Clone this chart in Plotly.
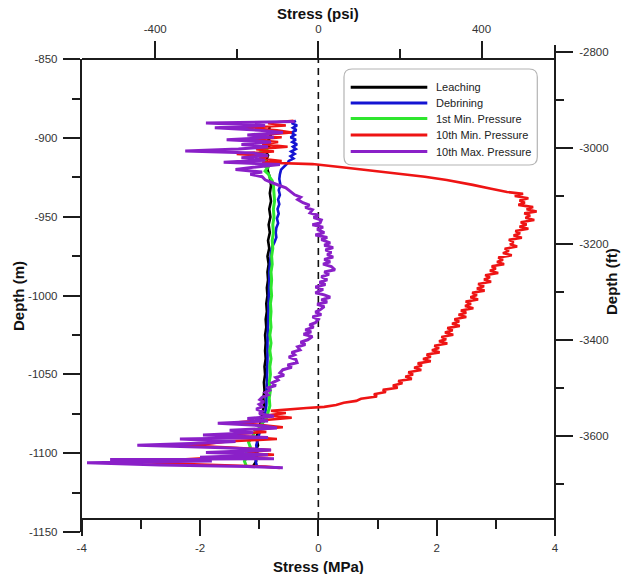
import plotly.graph_objects as go

# ---------------------------------------------------------------------------
# Stress profiles (MPa) against depth (m)
# ---------------------------------------------------------------------------
leach_depth = [-893, -896, -899, -902, -905, -908, -911, -914, -917, -920, -925, -930,
               -935, -940, -945, -950, -955, -960, -965, -970, -975, -980, -985, -990,
               -995, -1000, -1005, -1010, -1015, -1020, -1025, -1030, -1035, -1040,
               -1045, -1050, -1055, -1060, -1065, -1070, -1075, -1080, -1085, -1090,
               -1095, -1100, -1105, -1108]
leach_stress = [-0.82, -0.85, -0.80, -0.86, -0.83, -0.90, -0.85, -0.88, -0.84, -0.86, -0.82,
                -0.80, -0.82, -0.80, -0.83, -0.81, -0.84, -0.82, -0.85, -0.83, -0.86, -0.84,
                -0.86, -0.85, -0.87, -0.86, -0.88, -0.87, -0.89, -0.88, -0.90, -0.89, -0.90,
                -0.89, -0.91, -0.90, -0.92, -0.91, -0.93, -0.92, -0.95, -0.98, -1.00, -1.05,
                -1.02, -1.08, -1.05, -1.10]

debrine_depth = [-889, -890.5, -892, -893.5, -895, -896.5, -898, -899.5, -901, -902.5, -904,
                 -905.5, -907, -908.5, -910, -911.5, -913, -914.5, -916, -918, -920, -923,
                 -926, -930, -933, -936, -939, -942, -945, -948, -951, -954, -957, -960, -963,
                 -966, -969, -972, -976, -980, -985, -990, -1000, -1010, -1020, -1030, -1040,
                 -1050, -1060, -1070, -1075, -1080, -1085, -1090, -1095, -1100, -1105, -1108]
debrine_stress = [-0.38, -0.45, -0.36, -0.43, -0.37, -0.46, -0.40, -0.47, -0.38, -0.44, -0.36,
                  -0.43, -0.38, -0.46, -0.40, -0.47, -0.42, -0.50, -0.52, -0.58, -0.63, -0.65,
                  -0.66, -0.64, -0.67, -0.65, -0.68, -0.66, -0.69, -0.67, -0.70, -0.68, -0.71,
                  -0.72, -0.71, -0.74, -0.78, -0.80, -0.81, -0.82, -0.83, -0.83, -0.84, -0.85,
                  -0.85, -0.86, -0.86, -0.87, -0.87, -0.88, -0.90, -0.93, -0.98, -1.02, -1.05,
                  -1.03, -1.06, -1.04]

min1_depth = [-905, -907, -909, -911, -913, -915, -917, -919, -921, -923, -925, -927, -930,
              -935, -940, -945, -950, -955, -960, -965, -970, -975, -980, -985, -990, -995,
              -1000, -1005, -1010, -1015, -1020, -1025, -1030, -1035, -1040, -1045, -1050,
              -1055, -1060, -1065, -1070, -1074, -1078, -1081, -1084, -1087, -1090, -1093,
              -1096, -1099, -1102, -1105, -1108]
min1_stress = [-0.95, -0.88, -0.97, -0.90, -0.95, -0.88, -0.93, -0.86, -0.90, -0.84, -0.82,
               -0.78, -0.76, -0.75, -0.74, -0.76, -0.75, -0.77, -0.76, -0.78, -0.77, -0.79,
               -0.78, -0.80, -0.79, -0.80, -0.79, -0.81, -0.80, -0.81, -0.80, -0.82, -0.80,
               -0.82, -0.80, -0.82, -0.81, -0.83, -0.81, -0.83, -0.82, -0.85, -0.88, -0.95,
               -1.00, -1.08, -1.12, -1.18, -1.15, -1.22, -1.20, -1.25, -1.22]

min10_depth = [-889.0, -890.5, -892.0, -893.5, -895.0, -896.5, -898.0, -899.5, -901.0, -902.5,
               -904.0, -905.5, -907.0, -908.5, -910.0, -911.5, -913.0, -914.5, -915.5, -916.5,
               -918.5, -920.5, -922.8, -924.5, -926.6, -928.0, -929.7, -932.0, -934.2, -935.4,
               -936.8, -938.2, -939.6, -941.0, -942.4, -943.8, -945.2, -946.6, -947.8, -949.2,
               -950.6, -952.0, -953.4, -954.8, -956.2, -957.6, -959.0, -960.4, -961.8, -963.2,
               -964.6, -966.0, -967.4, -968.8, -970.2, -971.6, -973.0, -974.4, -975.8, -977.2,
               -978.6, -980.0, -981.4, -982.8, -984.2, -985.6, -987.0, -988.4, -989.8, -991.2,
               -992.6, -994.0, -995.4, -996.8, -998.2, -999.6, -1001.0, -1002.4, -1003.8,
               -1005.2, -1006.6, -1008.0, -1009.4, -1010.8, -1012.2, -1013.6, -1015.0, -1016.4,
               -1017.8, -1019.2, -1020.6, -1022.0, -1023.4, -1024.8, -1026.2, -1027.6, -1029.0,
               -1030.4, -1031.8, -1033.2, -1034.6, -1036.0, -1037.4, -1038.8, -1040.2, -1041.6,
               -1043.0, -1044.4, -1045.8, -1047.2, -1048.6, -1050.0, -1051.4, -1052.8, -1054.2,
               -1055.6, -1057.0, -1058.4, -1059.8, -1061.2, -1062.6, -1064.0, -1065.4, -1066.8,
               -1068.0, -1069.4, -1070.6, -1071.3, -1072.2, -1073.1, -1074.5, -1076.0, -1077.5,
               -1079.0, -1080.5, -1082.0, -1083.5, -1085.0, -1086.5, -1088.0, -1089.5, -1091.0,
               -1092.5, -1094.0, -1095.0, -1096.5, -1098.0, -1099.5, -1101.0, -1102.5, -1104.0,
               -1105.5, -1106.5, -1107.5, -1108.5, -1109.3]
min10_stress = [-0.42, -0.85, -0.55, -1.25, -0.70, -0.45, -0.95, -0.62, -1.10, -0.68,
                -0.95, -0.52, -1.05, -0.75, -1.38, -0.85, -1.00, -0.62, -0.95, -0.10,
                0.40, 0.85, 1.43, 1.80, 2.17, 2.40, 2.61, 2.90, 3.19, 3.46,
                3.32, 3.55, 3.40, 3.49, 3.38, 3.63, 3.52, 3.69, 3.48, 3.58,
                3.50, 3.65, 3.42, 3.52, 3.40, 3.55, 3.33, 3.41, 3.30, 3.44,
                3.22, 3.30, 3.24, 3.36, 3.15, 3.22, 3.12, 3.27, 3.04, 3.12,
                3.02, 3.14, 2.93, 3.00, 2.90, 3.04, 2.82, 2.90, 2.80, 2.92,
                2.70, 2.80, 2.68, 2.81, 2.60, 2.68, 2.57, 2.70, 2.49,
                2.58, 2.48, 2.62, 2.41, 2.50, 2.37, 2.50, 2.30, 2.38,
                2.26, 2.39, 2.18, 2.27, 2.14, 2.28, 2.08, 2.16, 2.04,
                2.18, 1.96, 2.04, 1.92, 2.05, 1.83, 1.90, 1.77, 1.90,
                1.68, 1.75, 1.62, 1.74, 1.52, 1.60, 1.47, 1.58, 1.35,
                1.42, 1.26, 1.34, 1.09, 1.14, 0.94, 0.99, 0.72, 0.64,
                0.43, 0.30, 0.10, -0.20, -0.55, -0.80, -0.55, -0.85, -0.45,
                -0.95, -1.40, -1.00, -0.60, -1.10, -0.88, -1.45, -1.20, -0.70,
                -1.55, -1.85, -2.28, -1.40, -0.80, -1.20, -0.75, -1.60, -2.40,
                -2.96, -2.50, -1.50, -0.90, -0.65]

max10_depth = [-889.5, -890.5, -892.0, -893.5, -895.0, -896.5, -898.0, -899.5, -901.0, -902.5,
               -904.0, -905.5, -907.0, -908.2, -909.5, -911.0, -912.5, -914.0, -915.3, -916.8,
               -918.5, -920.0, -921.5, -923.0, -924.5, -926.5, -928.5, -930.0, -931.5, -933.0,
               -934.8, -936.0, -937.5, -939.0, -941.0, -942.5, -944.0, -945.5, -947.5, -949.0,
               -950.5, -952.0, -953.8, -955.0, -956.5, -958.0, -960.0, -961.5, -963.0, -964.5,
               -966.5, -968.0, -969.5, -971.0, -972.5, -974.0, -975.5, -977.0, -978.5, -980.0,
               -981.5, -983.6, -985.0, -986.5, -988.0, -990.0, -991.5, -993.0, -994.5, -996.0,
               -998.2, -999.5, -1001.0, -1002.7, -1004.0, -1005.5, -1007.0, -1009.0, -1010.5,
               -1012.0, -1013.5, -1015.0, -1017.2, -1018.5, -1020.0, -1021.7, -1023.0, -1024.5,
               -1026.0, -1028.0, -1029.5, -1031.0, -1032.5, -1034.4, -1036.0, -1037.5, -1039.0,
               -1040.5, -1042.6, -1044.0, -1045.5, -1047.0, -1049.0, -1050.5, -1052.0, -1053.5,
               -1055.3, -1057.0, -1058.5, -1060.0, -1061.5, -1063.0, -1064.5, -1066.0, -1067.5,
               -1069.0, -1070.5, -1072.0, -1073.5, -1075.0, -1076.5, -1078.0, -1079.5, -1081.0,
               -1082.5, -1084.0, -1085.5, -1087.0, -1088.5, -1090.0, -1091.0, -1092.5, -1093.5,
               -1095.0, -1096.5, -1098.0, -1099.5, -1101.0, -1102.5, -1103.5, -1104.0, -1105.0,
               -1106.0, -1107.5, -1108.5, -1109.3]
max10_stress = [-0.40, -1.90, -0.90, -1.75, -1.00, -0.60, -1.20, -0.75, -1.55, -0.80,
                -1.30, -0.85, -1.35, -2.25, -1.10, -0.85, -1.30, -0.90, -1.60, -0.65,
                -1.10, -1.40, -0.95, -1.15, -0.95, -0.90, -0.77, -0.65, -0.55, -0.50,
                -0.43, -0.40, -0.30, -0.35, -0.26, -0.15, -0.22, -0.10, -0.14, 0.00,
                -0.08, 0.05, 0.03, -0.10, 0.08, -0.02, 0.10, -0.05, 0.15, 0.05,
                0.20, 0.10, 0.25, 0.12, 0.22, 0.15, 0.25, 0.10, 0.20, 0.08,
                0.22, 0.28, 0.10, 0.18, 0.05, 0.15, 0.02, 0.12, -0.05, 0.08,
                -0.05, 0.10, 0.20, 0.05, 0.15, -0.02, 0.10, 0.03, -0.05,
                0.05, -0.10, 0.00, -0.05, -0.15, -0.08, -0.22, -0.12, -0.25,
                -0.10, -0.18, -0.30, -0.22, -0.35, -0.31, -0.45, -0.40, -0.50,
                -0.38, -0.36, -0.52, -0.45, -0.60, -0.65, -0.58, -0.72, -0.68,
                -0.78, -0.72, -0.85, -0.82, -0.90, -0.85, -0.95, -0.99, -0.92,
                -1.00, -0.95, -1.05, -0.95, -1.00, -0.75, -1.20, -0.85, -1.70,
                -0.95, -0.70, -1.50, -1.10, -1.95, -0.85, -2.34, -1.40, -1.90,
                -3.06, -1.60, -0.80, -1.90, -0.85, -2.00, -0.75, -3.52, -1.80,
                -3.91, -2.68, -1.20, -0.60]

series_names = ["Leaching", "Debrining", "1st Min. Pressure", "10th Min. Pressure",
                "10th Max. Pressure"]
series_colors = ["#000000", "#1414d2", "#2ee62e", "#ee1414", "#8a20c8"]

# Axis ticks
mpa_ticks = [-4, -2, 0, 2, 4]
mpa_labels = ["-4", "-2", "0", "2", "4"]
mpa_minor = [-3, -1, 1, 3]
psi_ticks = [-400, 0, 400]
psi_labels = ["-400", "0", "400"]
psi_minor = [-200, 200]
m_ticks = [-850, -900, -950, -1000, -1050, -1100, -1150]
m_labels = ["-850", "-900", "-950", "-1000", "-1050", "-1100", "-1150"]
m_minor = [-875, -925, -975, -1025, -1075, -1125]
ft_ticks = [-2800, -3000, -3200, -3400, -3600]
ft_labels = ["-2800", "-3000", "-3200", "-3400", "-3600"]
ft_minor = [-2900, -3100, -3300, -3500, -3700]

# ---------------------------------------------------------------------------
# Layout geometry (pixels in a 626 x 574 page)
# ---------------------------------------------------------------------------
W, H = 626, 574
MPA_TO_PSI = 145.0377
M_TO_FT = 3.28084


def fx(p):
    return p / W


def fy(p):
    return 1 - p / H


LEFT_PX, RIGHT_PX = 81.7, 555.0          # -4 MPa / +4 MPa
TOP_PX, BOT_PX = 59.3, 532.0             # -850 m / -1150 m
XAXIS_PX = 519.0                         # bottom stress axis line
RAX_TOP_PX, RAX_BOT_PX = 45.0, 527.0     # extent of the feet axis
FT_REF, FT_REF_PX = -2800, 51.7

px_per_ft = (BOT_PX - TOP_PX) / (300 * M_TO_FT)
ft_top = FT_REF + (FT_REF_PX - RAX_TOP_PX) / px_per_ft
ft_bot = FT_REF - (RAX_BOT_PX - FT_REF_PX) / px_per_ft

FONT = "Liberation Sans, Arial, Helvetica, sans-serif"
AX = "#1c1c1c"
tick_font = dict(family=FONT, size=11.5, color="#333333")

fig = go.Figure()

depths = [leach_depth, debrine_depth, min1_depth, min10_depth, max10_depth]
stresses = [leach_stress, debrine_stress, min1_stress, min10_stress, max10_stress]
widths = [2.6, 2.6, 3.0, 2.6, 3.0]
for name, d, s, c, w in zip(series_names, depths, stresses, series_colors, widths):
    fig.add_trace(go.Scatter(x=s, y=d, mode="lines", name=name,
                             line=dict(color=c, width=w), showlegend=False))

# carriers for the secondary axes
fig.add_trace(go.Scatter(x=[None], y=[None], xaxis="x2", yaxis="y",
                         showlegend=False, hoverinfo="skip"))
fig.add_trace(go.Scatter(x=[None], y=[None], xaxis="x", yaxis="y2",
                         showlegend=False, hoverinfo="skip"))

common = dict(showline=True, linecolor=AX, linewidth=1.8, ticks="outside",
              tickwidth=1.8, tickcolor=AX, showgrid=False, zeroline=False,
              tickfont=tick_font, automargin=False, fixedrange=True, tickmode="array")

fig.update_layout(
    width=W, height=H,
    margin=dict(l=0, r=0, t=0, b=0),
    paper_bgcolor="white", plot_bgcolor="rgba(0,0,0,0)",
    showlegend=False,
    xaxis=dict(domain=[fx(LEFT_PX), fx(RIGHT_PX)], range=[-4, 4], anchor="free",
               position=fy(XAXIS_PX), side="bottom", tickvals=mpa_ticks,
               ticktext=mpa_labels, ticklen=16, ticklabelstandoff=2,
               minor=dict(tickmode="array", tickvals=mpa_minor, ticks="outside",
                          ticklen=9, tickwidth=1.8, tickcolor=AX),
               **common),
    xaxis2=dict(overlaying="x", range=[-4 * MPA_TO_PSI, 4 * MPA_TO_PSI], anchor="free",
                position=fy(TOP_PX), side="top", tickvals=psi_ticks, ticktext=psi_labels,
                ticklen=17, ticklabelstandoff=4,
                minor=dict(tickmode="array", tickvals=psi_minor, ticks="outside",
                           ticklen=9, tickwidth=1.8, tickcolor=AX),
                **common),
    yaxis=dict(domain=[fy(BOT_PX), fy(TOP_PX)], range=[-1150, -850], anchor="x",
               side="left", tickvals=m_ticks, ticktext=m_labels, ticklen=17,
               ticklabelstandoff=3,
               minor=dict(tickmode="array", tickvals=m_minor, ticks="outside",
                          ticklen=8, tickwidth=1.8, tickcolor=AX),
               **common),
    yaxis2=dict(domain=[fy(RAX_BOT_PX), fy(RAX_TOP_PX)], range=[ft_bot, ft_top],
                anchor="free", position=fx(RIGHT_PX), side="right", tickvals=ft_ticks,
                ticktext=ft_labels, ticklen=17, ticklabelstandoff=4,
                minor=dict(tickmode="array", tickvals=ft_minor, ticks="outside",
                           ticklen=8, tickwidth=1.8, tickcolor=AX),
                **common),
)

# dashed zero-stress reference line
fig.add_shape(type="line", xref="x", yref="paper", x0=0, x1=0,
              y0=fy(XAXIS_PX), y1=fy(TOP_PX), layer="below",
              line=dict(color="#111111", width=1.6, dash="7px,5px"))

# axis titles
title_font = dict(family=FONT, size=15, color="#111111")
fig.add_annotation(text="<b>Stress (psi)</b>", xref="paper", yref="paper",
                   x=fx(318.4), y=fy(13), showarrow=False, font=title_font,
                   xanchor="center", yanchor="middle")
fig.add_annotation(text="<b>Stress (MPa)</b>", xref="paper", yref="paper",
                   x=fx(318.4), y=fy(566), showarrow=False, font=title_font,
                   xanchor="center", yanchor="middle")
fig.add_annotation(text="<b>Depth (m)</b>", xref="paper", yref="paper",
                   x=fx(18), y=fy(296), showarrow=False, font=title_font,
                   textangle=-90, xanchor="center", yanchor="middle")
fig.add_annotation(text="<b>Depth (ft)</b>", xref="paper", yref="paper",
                   x=fx(611), y=fy(282), showarrow=False, font=title_font,
                   textangle=-90, xanchor="center", yanchor="middle")

# legend box with rounded corners
LX0, LX1, LY0, LY1, R = 344.0, 537.3, 69.0, 165.0, 8.0
path = (f"M {fx(LX0 + R)},{fy(LY0)} L {fx(LX1 - R)},{fy(LY0)} "
        f"Q {fx(LX1)},{fy(LY0)} {fx(LX1)},{fy(LY0 + R)} "
        f"L {fx(LX1)},{fy(LY1 - R)} Q {fx(LX1)},{fy(LY1)} {fx(LX1 - R)},{fy(LY1)} "
        f"L {fx(LX0 + R)},{fy(LY1)} Q {fx(LX0)},{fy(LY1)} {fx(LX0)},{fy(LY1 - R)} "
        f"L {fx(LX0)},{fy(LY0 + R)} Q {fx(LX0)},{fy(LY0)} {fx(LX0 + R)},{fy(LY0)} Z")
fig.add_shape(type="path", path=path, xref="paper", yref="paper",
              line=dict(color="#b4b4b4", width=1.2), fillcolor="white", layer="above")

row_px = [87.3, 102.9, 118.6, 135.0, 151.5]
for name, c, ry in zip(series_names, series_colors, row_px):
    fig.add_shape(type="line", xref="paper", yref="paper", x0=fx(350.7), x1=fx(427.3),
                  y0=fy(ry), y1=fy(ry), line=dict(color=c, width=3), layer="above")
    fig.add_annotation(text=name, xref="paper", yref="paper", x=fx(434), y=fy(ry),
                       showarrow=False, xanchor="left", yanchor="middle",
                       font=dict(family=FONT, size=11, color="#222222"))

fig.write_html("out.html")
